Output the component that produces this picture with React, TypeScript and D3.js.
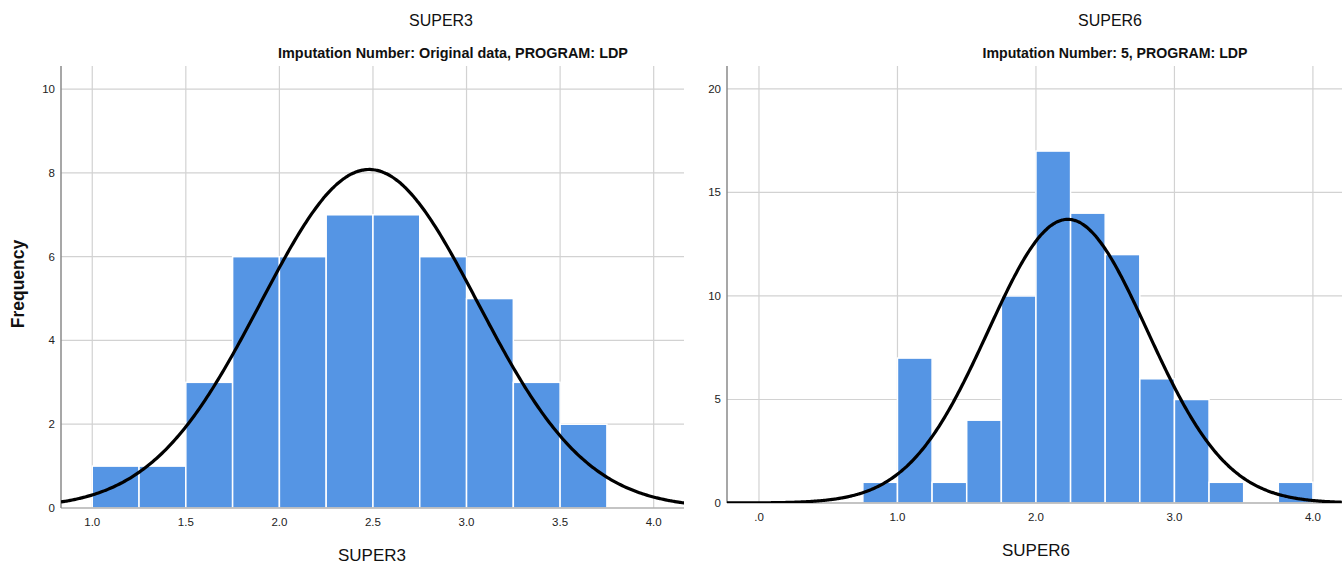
import * as d3 from 'd3';

// bin edges are 0.25 wide; value = bin start
const super3Bins = [1.0, 1.25, 1.5, 1.75, 2.0, 2.25, 2.5, 2.75, 3.0, 3.25, 3.5];
const super3Counts = [1, 1, 3, 6, 6, 7, 7, 6, 5, 3, 2];
const super3Mean = 2.48;
const super3Sd = 0.58;
const super3XTicks = [1.0, 1.5, 2.0, 2.5, 3.0, 3.5, 4.0];
const super3YTicks = [0, 2, 4, 6, 8, 10];

const super6Bins = [0.75, 1.0, 1.25, 1.5, 1.75, 2.0, 2.25, 2.5, 2.75, 3.0, 3.25, 3.5, 3.75];
const super6Counts = [1, 7, 1, 4, 10, 17, 14, 12, 6, 5, 1, 0, 1];
const super6Mean = 2.23;
const super6Sd = 0.575;
const super6XTicks = [0, 1, 2, 3, 4];
const super6YTicks = [0, 5, 10, 15, 20];

const BIN_WIDTH = 0.25;
const BAR_COLOR = '#5595e4';
const GRID = '#d2d2d2';

interface PanelProps {
  id: string;
  title: string;
  subtitle: string;
  subWidth: number;
  xLabel: string;
  bins: number[];
  counts: number[];
  mean: number;
  sd: number;
  xTicks: number[];
  yTicks: number[];
  xDomain: [number, number];
  yDomain: [number, number];
  left: number;
  right: number;
  top: number;
  bottom: number;
  xFormat: (v: number) => string;
  titleX: number;
  subX: number;
  labelX: number;
}

function Panel(p: PanelProps) {
  const x = d3.scaleLinear().domain(p.xDomain).range([p.left, p.right]);
  const y = d3.scaleLinear().domain(p.yDomain).range([p.bottom, p.top]);
  const n = d3.sum(p.counts);
  const curveData = d3.range(p.xDomain[0], p.xDomain[1] + 0.005, 0.01).map(v => {
    const z = (v - p.mean) / p.sd;
    return { v, f: (n * BIN_WIDTH) / (p.sd * Math.sqrt(2 * Math.PI)) * Math.exp(-0.5 * z * z) };
  });
  const line = d3.line<{ v: number; f: number }>()
    .x(d => x(d.v))
    .y(d => y(d.f))
    .curve(d3.curveBasis);
  const plotTop = 66;
  return (
    <g>
      <defs>
        <clipPath id={`clip-${p.id}`}>
          <rect x={p.left} y={plotTop} width={p.right - p.left} height={p.bottom - plotTop} />
        </clipPath>
      </defs>
      {/* grid */}
      {p.yTicks.filter(t => t > 0).map(t => (
        <line key={`gy${t}`} x1={p.left} x2={p.right} y1={y(t)} y2={y(t)} stroke={GRID} strokeWidth={1.2} />
      ))}
      {p.xTicks.map(t => (
        <line key={`gx${t}`} x1={x(t)} x2={x(t)} y1={plotTop} y2={p.bottom} stroke={GRID} strokeWidth={1.2} />
      ))}
      {/* bars */}
      {p.bins.map((b, i) => p.counts[i] > 0 && (
        <rect key={`b${i}`} x={x(b)} y={y(p.counts[i])} width={x(b + BIN_WIDTH) - x(b)}
          height={y(0) - y(p.counts[i])} fill={BAR_COLOR} stroke="#ffffff" strokeWidth={1.5} />
      ))}
      {/* axes */}
      <line x1={p.left} x2={p.right} y1={p.bottom} y2={p.bottom} stroke="#b0b0b0" strokeWidth={1.5} />
      <line x1={p.left} x2={p.left} y1={plotTop} y2={p.bottom} stroke="#8a8a8a" strokeWidth={1.5} />
      {/* normal curve */}
      <path d={line(curveData) || ''} fill="none" stroke="#000" strokeWidth={3.2} clipPath={`url(#clip-${p.id})`} />
      {/* tick labels */}
      {p.yTicks.map(t => (
        <text key={`ty${t}`} x={p.left - 6} y={y(t) + 4} textAnchor="end" fontSize={11.5} fill="#222">{t}</text>
      ))}
      {p.xTicks.map(t => (
        <text key={`tx${t}`} x={x(t)} y={p.bottom + 18} textAnchor="middle" fontSize={11.5} fill="#222">{p.xFormat(t)}</text>
      ))}
      {/* titles */}
      <text x={p.titleX} y={26} textAnchor="middle" fontSize={16} fill="#111">{p.title}</text>
      <text x={p.subX} y={58} textAnchor="middle" fontSize={14.5} fontWeight="bold" fill="#111"
        textLength={p.subWidth} lengthAdjust="spacingAndGlyphs">{p.subtitle}</text>
      <text x={p.labelX} y={p.bottom + 53} textAnchor="middle" fontSize={17} fill="#111">{p.xLabel}</text>
    </g>
  );
}

export default function App() {
  const fmt3 = (v: number) => v.toFixed(1);
  const fmt6 = (v: number) => (v === 0 ? '.0' : v.toFixed(1));
  return (
    <svg width={1342} height={565} style={{ position: 'absolute', left: 0, top: 0, background: '#fff' }}
      fontFamily="'Liberation Sans', Arial, sans-serif">
      <rect x={0} y={0} width={1342} height={565} fill="#fff" />
      <Panel id="s3" title="SUPER3" subtitle="Imputation Number: Original data, PROGRAM: LDP" subWidth={350} xLabel="SUPER3"
        bins={super3Bins} counts={super3Counts} mean={super3Mean} sd={super3Sd}
        xTicks={super3XTicks} yTicks={super3YTicks}
        xDomain={[0.833, 4.162]} yDomain={[0, 10.48]}
        left={61} right={684} top={69} bottom={508} xFormat={fmt3} titleX={441} subX={453} labelX={372} />
      <Panel id="s6" title="SUPER6" subtitle="Imputation Number: 5, PROGRAM: LDP" subWidth={265} xLabel="SUPER6"
        bins={super6Bins} counts={super6Counts} mean={super6Mean} sd={super6Sd}
        xTicks={super6XTicks} yTicks={super6YTicks}
        xDomain={[-0.231, 4.21]} yDomain={[0, 21.06]}
        left={727} right={1342} top={67} bottom={503} xFormat={fmt6} titleX={1110} subX={1115} labelX={1036} />
      <text transform="translate(24,284) rotate(-90)" textAnchor="middle" fontSize={17.5} fontWeight="bold" fill="#111">Frequency</text>
    </svg>
  );
}
